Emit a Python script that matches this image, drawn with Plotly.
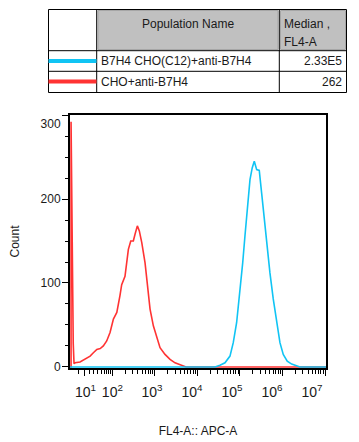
import numpy as np
import plotly.graph_objects as go

# ---------------- data (FL4-A values, counts) ----------------
pop_names = ["B7H4 CHO(C12)+anti-B7H4", "CHO+anti-B7H4"]
pop_medians = ["2.33E5", "262"]
pop_colors = ["#10C4F4", "#FF3333"]

red_x = [-15, -13.0, -13.0, -11.6, -10.2, -9.0, -7.6, -5.7, 2.9, 11.8, 21.7, 28.9, 37.5, 47.2,
         57.6, 70.6, 85.8, 104, 126, 150, 165, 198, 238, 271, 312, 342, 388, 432, 493,
         589, 667, 772, 923, 1109, 1325, 1736, 2275, 2981, 3904, 4670, 5400, 1.05e7]
red_y = [0, 0, 292, 172, 53, 28, 4, 5, 6, 9, 13, 17, 21, 22,
         25, 31, 41, 57, 65, 85, 98, 108, 140, 150, 150, 158, 168, 162, 148,
         124, 96, 69, 49, 35, 23, 15, 9, 5, 2.5, 1.5, 0, 0]

blue_x = [-15, 25900, 33900, 44500, 58300, 69600, 83600, 100000, 116000, 131000,
          148000, 172000, 194000, 217000, 247000, 284000, 323000, 366000, 424000,
          506000, 605000, 727000, 870000, 1040000, 1290000, 1640000, 2140000,
          2560000, 1.05e7]
blue_y = [0, 0, 2, 5, 13, 29, 53, 89, 124, 156, 191, 223, 237, 245, 235, 234, 207,
          179, 148, 112, 81, 53, 29, 15, 7, 3.5, 1, 0, 0]

decades = [1, 2, 3, 4, 5, 6, 7]
tick_labels = ["10<sup>%d</sup>" % d for d in decades]
y_ticks = [0, 100, 200, 300]
y_tick_text = ["0", "100", "200", "300"]

# biexponential-like (arcsinh) display transform
COF = 32.0
def T(v):
    return np.arcsinh(np.asarray(v, dtype=float) / COF)

x_range = [-15, 1.05e7]
label_range = [-19.6, 2.23e7]
y_range = [-1.2, 300]
# the top count label sits slightly inside the frame, as in the reference
y_label_pos = y_ticks[:-1] + [y_ticks[-1] - 10.5]

major = T([10.0 ** d for d in decades])
minor_vals = [0.0] + [m * 10.0 ** d for d in range(1, 7) for m in range(2, 10)]
minor = T(minor_vals)

fig = go.Figure()
fig.add_trace(go.Scatter(x=T(red_x), y=red_y, mode="lines",
                         line=dict(color=pop_colors[1], width=1.6), showlegend=False,
                         hoverinfo="skip"))
fig.add_trace(go.Scatter(x=T(blue_x), y=blue_y, mode="lines",
                         line=dict(color=pop_colors[0], width=1.6), showlegend=False,
                         hoverinfo="skip"))
# invisible trace to bind the label axes
fig.add_trace(go.Scatter(x=[T(1.0)], y=[-10], xaxis="x2", yaxis="y2", mode="markers",
                         marker=dict(opacity=0), showlegend=False, hoverinfo="skip"))

FONT = "Liberation Sans, Arial, sans-serif"
TXT = "#1a1a1a"

# page body has an 8px margin: figure is shrunk so the plot lands at the reference pixels
fig.update_layout(
    width=351, height=434,
    margin=dict(l=62, r=33, t=107, b=74, autoexpand=False),
    paper_bgcolor="white", plot_bgcolor="white",
    font=dict(family=FONT, size=12, color=TXT),
    xaxis=dict(range=list(T(x_range)), showgrid=False, zeroline=False, automargin=False,
               showline=True, linecolor="black", linewidth=2, mirror=True,
               tickmode="array", tickvals=list(major), showticklabels=False,
               ticks="outside", ticklen=6, tickwidth=1, tickcolor="black",
               minor=dict(tickmode="array", tickvals=list(minor), ticks="outside",
                          ticklen=4, tickwidth=1, tickcolor="black", showgrid=False)),
    xaxis2=dict(overlaying="x", anchor="y", side="bottom", automargin=False,
                range=list(T(label_range)), showgrid=False, zeroline=False,
                showline=False, ticks="outside", ticklen=11, tickcolor="rgba(0,0,0,0)",
                tickmode="array", tickvals=list(major),
                ticktext=tick_labels, tickfont=dict(size=14, color=TXT),
                title=dict(text="FL4-A:: APC-A", font=dict(size=12, color=TXT),
                           standoff=27)),
    yaxis=dict(range=y_range, showgrid=False, zeroline=False, automargin=False,
               showline=True, linecolor="black", linewidth=2, mirror=True,
               tickmode="array", tickvals=y_ticks, showticklabels=False,
               ticks="outside", ticklen=6,
               tickwidth=1, tickcolor="black",
               minor=dict(dtick=25, tick0=0, ticks="outside", ticklen=3,
                          tickwidth=1, tickcolor="black", showgrid=False)),
    yaxis2=dict(overlaying="y", anchor="x", side="left", range=y_range, automargin=False,
                showgrid=False, zeroline=False, showline=False,
                ticks="outside", ticklen=6, tickcolor="rgba(0,0,0,0)",
                tickmode="array", tickvals=y_label_pos, ticktext=y_tick_text,
                tickfont=dict(size=12, color=TXT),
                title=dict(text="Count", font=dict(size=12, color=TXT), standoff=23)),
)

# ---------------- legend table (page pixel layout -> paper coords) ----------------
PL, PT, PW, PH = 70.0, 115.0, 256.0, 253.0
def px(x):
    return (x - PL) / PW
def py(y):
    return (PT + PH - y) / PH

shapes = []
def rect(x0, y0, x1, y1, fill=None, color="black", width=1):
    shapes.append(dict(type="rect", xref="paper", yref="paper",
                       x0=px(x0), x1=px(x1), y0=py(y1), y1=py(y0),
                       fillcolor=fill if fill else "rgba(0,0,0,0)",
                       line=dict(color=color, width=width), layer="above"))
def line(x0, y0, x1, y1, color="black", width=1):
    shapes.append(dict(type="line", xref="paper", yref="paper",
                       x0=px(x0), x1=px(x1), y0=py(y0), y1=py(y1),
                       line=dict(color=color, width=width), layer="above"))

rect(98, 10.5, 278, 49.5, fill="#c0c0c0", color="#a6a6a6")
rect(280.5, 10.5, 345.5, 49.5, fill="#c0c0c0", color="#a6a6a6")
rect(48.5, 9.5, 346.5, 92.5)
line(96.7, 9.5, 96.7, 92.5)
line(279.3, 9.5, 279.3, 92.5)
line(48.5, 50.7, 346.5, 50.7)
line(48.5, 71.3, 346.5, 71.3)
line(48.5, 61, 96.5, 61, color=pop_colors[0], width=4)
line(48.5, 81.5, 96.5, 81.5, color=pop_colors[1], width=4)

ann = []
def text(x, y, s, anchor="left"):
    ann.append(dict(xref="paper", yref="paper", x=px(x), y=py(y), text=s,
                    showarrow=False, xanchor=anchor, yanchor="middle",
                    font=dict(family=FONT, size=12, color=TXT)))

text(187.5, 23.5, "Population Name", "center")
text(281.5, 23.5, "Median ,")
text(281.5, 42, "FL4-A")
row_y = [61, 82]
for name, med, yy in zip(pop_names, pop_medians, row_y):
    text(99, yy, name)
    text(344, yy, med, "right")

fig.update_layout(shapes=shapes, annotations=ann)
fig.write_html("out.html")
